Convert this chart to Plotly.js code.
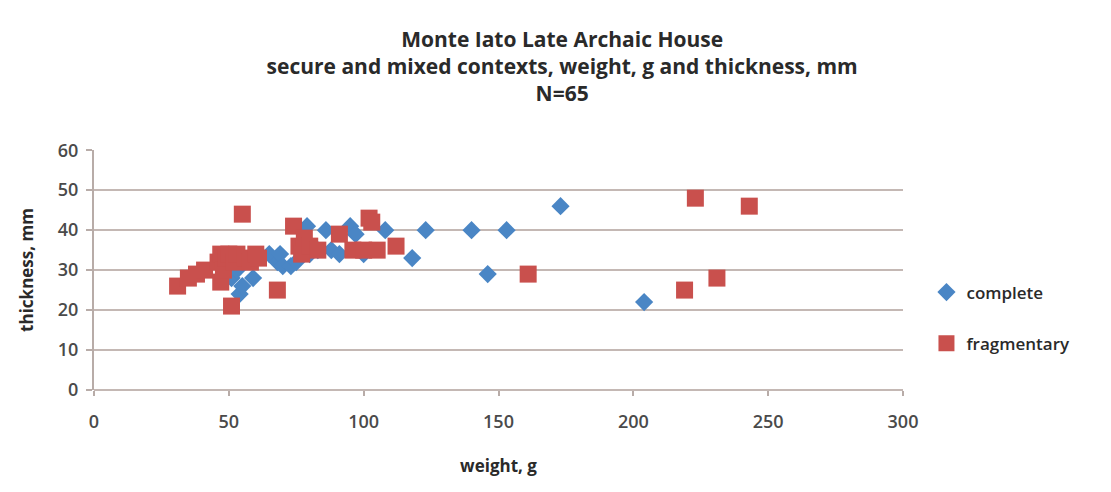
<!DOCTYPE html>
<html>
<head>
<meta charset="utf-8">
<script src="https://cdn.plot.ly/plotly-3.0.1.min.js"></script>
<style>html,body{margin:0;padding:0;background:#fff;}#chart{width:1111px;height:492px;}</style>
</head>
<body>
<div id="chart"></div>
<script>
const completeWeight = [51,53,54,55,59,65,68,69,70,73,75,79,80,83,86,88,91,95,97,100,108,118,123,140,146,153,173,204];
const completeThickness = [28,30,24,26,28,34,32,34,31,31,32,41,34,35,40,35,34,41,39,34,40,33,40,40,29,40,46,22];
const fragWeight = [31,35,38,41,46,47,47,48,49,50,51,52,53,55,56,58,60,61,68,74,76,77,78,80,83,91,96,100,102,103,105,112,161,219,223,231,243];
const fragThickness = [26,28,29,30,32,34,27,30,33,34,21,32,34,44,33,32,34,33,25,41,36,34,38,36,35,39,35,35,43,42,35,36,29,25,48,28,46];
const seriesNames = ["complete","fragmentary"];
const titleLines = ["Monte Iato Late Archaic House","secure and mixed contexts, weight, g and thickness, mm","N=65"];

const font = "Open Sans, sans-serif";
const gridCol = "#c4b8b4";
const data = [
  {x: completeWeight, y: completeThickness, name: seriesNames[0], type: "scatter", mode: "markers",
   legendgroup: "a",
   marker: {symbol: "diamond", size: 14, color: "#4a86c5"}},
  {x: fragWeight, y: fragThickness, name: seriesNames[1], type: "scatter", mode: "markers",
   legendgroup: "b",
   marker: {symbol: "square", size: 17, color: "#c9504d"}}
];
const layout = {
  width: 1111, height: 492,
  margin: {l: 94, r: 208, t: 150, b: 102},
  paper_bgcolor: "#fff", plot_bgcolor: "#fff",
  showlegend: true,
  title: {text: titleLines.map(s => "<b>" + s + "</b>").join("<br>"),
          x: 0.506, xref: "container", xanchor: "center", y: 0.905, yref: "container", yanchor: "top",
          font: {family: font, size: 21, color: "#2a2a2a"}},
  xaxis: {range: [0, 300], dtick: 50, tick0: 0, showgrid: false, zeroline: false,
          showline: false, ticks: "outside", ticklen: 5, tickcolor: "#b8aca8", tickwidth: 2,
          ticklabelstandoff: 10,
          tickfont: {family: font, size: 18, color: "#4a4a4a", weight: 600},
          title: {text: "<b>weight, g</b>", font: {family: font, size: 17, color: "#2a2a2a"}, standoff: 28}},
  yaxis: {range: [0, 60.05], dtick: 10, tick0: 0, showgrid: true, gridcolor: gridCol, gridwidth: 2,
          zeroline: true, zerolinecolor: gridCol, zerolinewidth: 2,
          showline: true, linecolor: "#b8aca8", linewidth: 2,
          ticks: "outside", ticklen: 6, tickcolor: "#b8aca8", tickwidth: 2,
          ticklabelstandoff: 4,
          tickfont: {family: font, size: 18, color: "#4a4a4a", weight: 600},
          title: {text: "<b>thickness, mm</b>", font: {family: font, size: 17, color: "#2a2a2a"}, standoff: 20}},
  legend: {x: 1.029, xanchor: "left", y: 0.30, yanchor: "middle", tracegroupgap: 26,
           font: {family: font, size: 17, color: "#2a2a2a", weight: 600}, itemwidth: 30, bgcolor: "rgba(0,0,0,0)"}
};
Plotly.newPlot("chart", data, layout, {displayModeBar: false, staticPlot: true});
</script>
</body>
</html>
